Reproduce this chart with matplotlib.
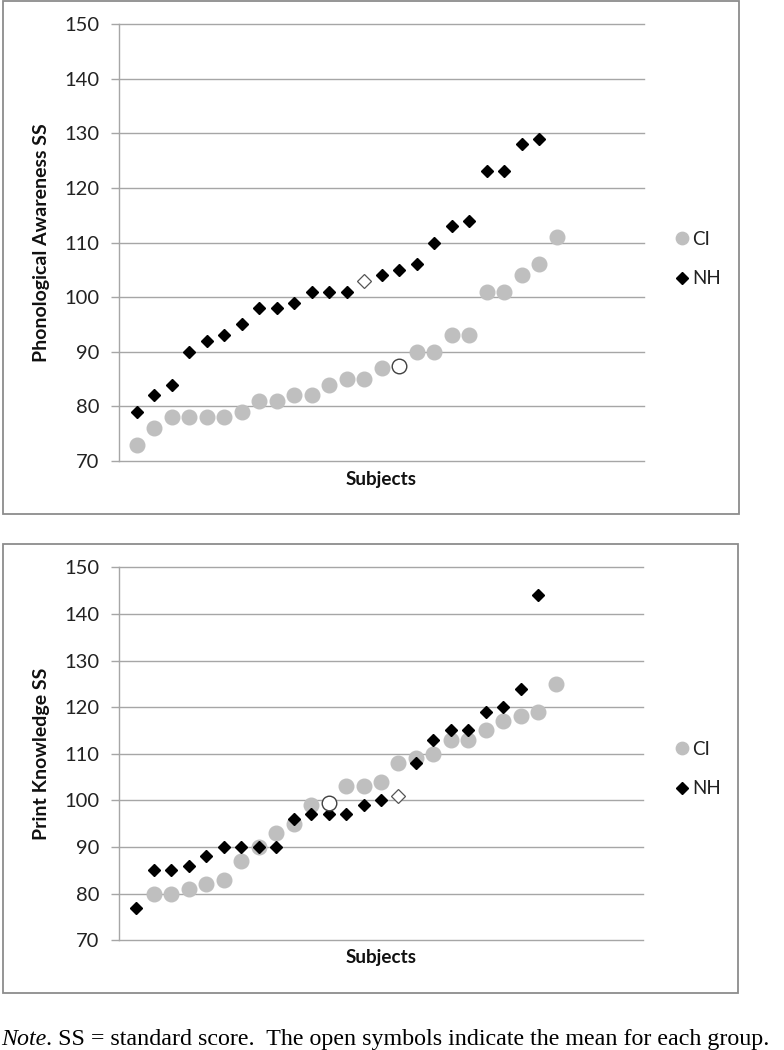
import numpy as np
import matplotlib
matplotlib.use("Agg")
import matplotlib.pyplot as plt
from matplotlib.patches import Rectangle

nan = np.nan
# ---- Data (subject order, 1-based; nan = no point at that slot) ----
# Phonological Awareness
pa_ci = [73, 76, 78, 78, 78, 78, 79, 81, 81, 82, 82, 84, 85, 85, 87, nan,
         90, 90, 93, 93, 101, 101, 104, 106, 111]
pa_nh = [79, 82, 84, 90, 92, 93, 95, 98, 98, 99, 101, 101, 101, nan,
         104, 105, 106, 110, 113, 114, 123, 123, 128, 129]
pa_ci_mean, pa_ci_mean_slot = 87.3, 16
pa_nh_mean, pa_nh_mean_slot = 103.0, 14
# Print Knowledge
pk_ci = [nan, 80, 80, 81, 82, 83, 87, 90, 93, 95, 99, nan,
         103, 103, 104, 108, 109, 110, 113, 113, 115, 117, 118, 119, 125]
pk_nh = [77, 85, 85, 86, 88, 90, 90, 90, 90, 96, 97, 97, 97, 99, 100, nan,
         108, 113, 115, 115, 119, 120, 124, 144]
pk_ci_mean, pk_ci_mean_slot = 99.5, 12
pk_nh_mean, pk_nh_mean_slot = 101.0, 16

y_ticks = [70, 80, 90, 100, 110, 120, 130, 140, 150]
series_names = ["CI", "NH"]
panel_ylabels = ["Phonological Awareness SS", "Print Knowledge SS"]
x_label = "Subjects"
note_italic = "Note"
note_rest = ". SS = standard score.  The open symbols indicate the mean for each group."

plt.rcParams['font.family'] = ['Lato', 'DejaVu Sans']

W, H = 784, 1050
fig = plt.figure(figsize=(W / 100, H / 100), dpi=100)

CI_COLOR = '#BFBFBF'
GRID = '#A6A6A6'

def fx(px):
    return px / W

def fy(py):
    return 1 - py / H

def make_panel(ax_rect, frame_rect, ci, nh, ci_mean, ci_slot, nh_mean, nh_slot,
               ylabel, legend_y, subj_y, ylabel_x):
    # frame
    x0, y0, x1, y1 = frame_rect
    fig.patches.append(Rectangle((fx(x0), fy(y1)), fx(x1) - fx(x0), fy(y0) - fy(y1),
                                 transform=fig.transFigure, fill=False,
                                 edgecolor='#8C8C8C', linewidth=1.3))
    l, t, r, b = ax_rect
    ax = fig.add_axes([fx(l), fy(b), fx(r) - fx(l), fy(t) - fy(b)])
    ci_x = np.arange(1, len(ci) + 1)
    nh_x = np.arange(1, len(nh) + 1)
    ax.plot(ci_x, ci, linestyle='none', marker='o', markersize=10.5,
            markerfacecolor=CI_COLOR, markeredgecolor=CI_COLOR, label=series_names[0],
            zorder=3)
    ax.plot(nh_x, nh, linestyle='none', marker='D', markersize=6.6,
            markerfacecolor='black', markeredgecolor='black', label=series_names[1],
            zorder=4)
    ax.plot([ci_slot], [ci_mean], linestyle='none', marker='o', markersize=10.5,
            markerfacecolor='white', markeredgecolor='#404040', markeredgewidth=1.0,
            zorder=5)
    ax.plot([nh_slot], [nh_mean], linestyle='none', marker='D', markersize=6.8,
            markerfacecolor='white', markeredgecolor='#555555', markeredgewidth=0.9,
            zorder=5)
    ax.set_xlim(0, 30)
    ax.set_ylim(70, 150)
    ax.set_yticks(y_ticks)
    ax.set_xticks([])
    ax.grid(axis='y', color=GRID, linewidth=1.0)
    for gl in ax.get_ygridlines():
        gl.set_clip_on(False)
    ax.set_axisbelow(True)
    for s in ['top', 'right', 'bottom']:
        ax.spines[s].set_visible(False)
    ax.spines['left'].set_color(GRID)
    ax.spines['left'].set_linewidth(1.0)
    ax.tick_params(axis='y', direction='out', length=6, width=1.0, color=GRID,
                   labelsize=14.5, labelcolor='#222222', pad=8)
    fig.text(fx(ylabel_x), (fy(t) + fy(b)) / 2, ylabel, rotation=90, ha='center',
             va='center', fontsize=14, fontweight='bold', color='#111111')
    fig.text((fx(l) + fx(r)) / 2, fy(subj_y), x_label, ha='center', va='center',
             fontsize=13.6, fontweight='bold', color='#111111')
    leg = ax.legend(loc='center left', bbox_to_anchor=(fx(676), fy(legend_y)),
                    bbox_transform=fig.transFigure, frameon=False, fontsize=13.5,
                    handlelength=0.6, handletextpad=0.25, labelspacing=1.2,
                    markerscale=0.85, borderpad=0, borderaxespad=0)
    for txt in leg.get_texts():
        txt.set_color('#222222')
    return ax

make_panel((119, 24, 644, 461), (3, 1, 739, 514), pa_ci, pa_nh,
           pa_ci_mean, pa_ci_mean_slot, pa_nh_mean, pa_nh_mean_slot,
           panel_ylabels[0], 259, 479, 42)
make_panel((119, 567.3, 643, 940.3), (3, 544, 738, 993), pk_ci, pk_nh,
           pk_ci_mean, pk_ci_mean_slot, pk_nh_mean, pk_nh_mean_slot,
           panel_ylabels[1], 769, 958, 42)

t1 = fig.text(fx(1), fy(1045), note_italic, ha='left', va='baseline', fontsize=17.3,
              family='Liberation Serif', style='italic')
fig.canvas.draw()
bb = t1.get_window_extent()
fig.text(bb.x1 / W, fy(1045), note_rest, ha='left', va='baseline', fontsize=17.3,
         family='Liberation Serif')

fig.savefig('out.png', dpi=100)
